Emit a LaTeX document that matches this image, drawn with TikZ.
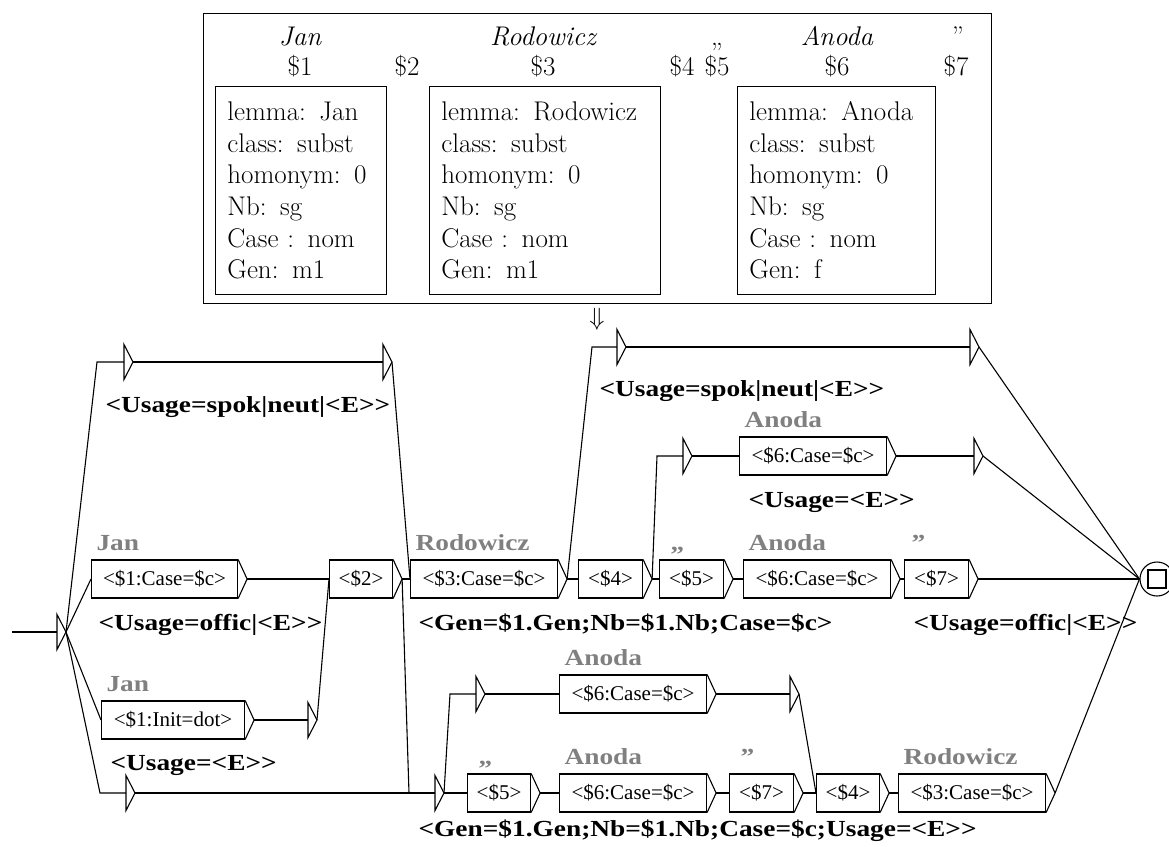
\documentclass[tikz,border=0pt]{standalone}
\usepackage{fontspec}
\newfontfamily\boxfont{Liberation Serif}
\newfontfamily\outfont[FakeStretch=1.19]{Liberation Serif}
\begin{document}
\begin{tikzpicture}[x=1pt,y=-1pt,line width=1.1pt,
 tbox/.style={draw,anchor=west,minimum height=38pt,minimum width=#1,inner sep=0pt,font=\boxfont\fontsize{21}{25}\selectfont},
 tbox/.default=64pt,
 glab/.style={anchor=base west,text=gray,inner sep=0pt,font=\outfont\bfseries\fontsize{23}{27}\selectfont},
 outp/.style={anchor=base west,inner sep=0pt,font=\outfont\bfseries\fontsize{23}{27}\selectfont},
 lex/.style={draw,anchor=north west,align=left,text width=#1,minimum height=208pt,inner xsep=12pt,inner ysep=0pt,line width=0.8pt,font=\fontsize{27}{31.7}\selectfont},
 tok/.style={anchor=base,inner sep=0pt,font=\fontsize{27}{31.7}\selectfont}]
\useasboundingbox (0,0) rectangle (1169,846);
\draw[line width=0.8pt] (203,13) rectangle (991,303);
\node[lex=147pt] (lj) at (215,86) {lemma: Jan\\class: subst\\homonym: 0\\Nb: sg\\Case : nom\\Gen: m1};
\node[lex=207pt] (lr) at (429,86) {lemma: Rodowicz\\class: subst\\homonym: 0\\Nb: sg\\Case : nom\\Gen: m1};
\node[lex=174pt] (la) at (737,86) {lemma: Anoda\\class: subst\\homonym: 0\\Nb: sg\\Case : nom\\Gen: f};
\node[tok] (tj) at (300,45) {\itshape Jan};
\node[tok] (t1) at (300,75) {\$1};
\node[tok] (t2) at (407,75) {\$2};
\node[tok] (tr) at (543,45) {\itshape Rodowicz};
\node[tok] (t3) at (543,75) {\$3};
\node[tok] (t4) at (682,75) {\$4};
\node[tok] (tq1) at (717,45) {„};
\node[tok] (t5) at (717,75) {\$5};
\node[tok] (ta) at (837,45) {\itshape Anoda};
\node[tok] (t6) at (837,75) {\$6};
\node[tok] (tq2) at (958,45) {”};
\node[tok] (t7) at (956,75) {\$7};
\node[tok,anchor=center] (dn) at (597,319) {$\Downarrow$};
\coordinate (start) at (12,632);
\foreach \e/\x/\y in {s0/57/632,eA/124/362,eB/383/362,eC/308/720,eD/126/793,eE/435/793,eF/476/694,eG/790/694,eH/617/347,eI/970/347,eJ/683/456,eK/974/456}{
 \coordinate (\e) at (\x,\y);
 \draw (\e) ++(0,-17.5) -- ++(0,35) -- ++(9,-17.5) coordinate (\e-out) -- cycle;}
\node[tbox=146pt] (j1) at (91,579) {<\$1:Case=\$c>};
\node[tbox=63pt] (d2) at (329,579) {<\$2>};
\node[tbox=147pt] (r1) at (410,579) {<\$3:Case=\$c>};
\node[tbox] (d4) at (578,579) {<\$4>};
\node[tbox] (d5) at (659,579) {<\$5>};
\node[tbox=147pt] (a1) at (743,579) {<\$6:Case=\$c>};
\node[tbox] (d7) at (904,579) {<\$7>};
\node[tbox=147pt] (a2) at (739,456) {<\$6:Case=\$c>};
\node[tbox=143pt] (j2) at (101,720) {<\$1:Init=dot>};
\node[tbox=147pt] (a4) at (559,694) {<\$6:Case=\$c>};
\node[tbox=63pt] (e5) at (467,793) {<\$5>};
\node[tbox=147pt] (a3) at (559,793) {<\$6:Case=\$c>};
\node[tbox] (e7) at (729,793) {<\$7>};
\node[tbox=63pt] (e4) at (816,793) {<\$4>};
\node[tbox=147pt] (r2) at (898,793) {<\$3:Case=\$c>};
\foreach \b in {j1,d2,r1,d4,d5,a1,d7,a2,j2,a4,e5,a3,e7,e4,r2}
 \draw (\b.north east) -- ([xshift=9pt]\b.east) coordinate (\b-out) -- (\b.south east);
\node[draw,circle,minimum size=34pt,inner sep=0pt] (fin) at (1157,579) {};
\node[draw,minimum size=18pt,inner sep=0pt] (fsq) at (fin) {};
\foreach \b/\t/\s in {j1/Jan/5,r1/Rodowicz/5,a1/Anoda/5,a2/Anoda/5,j2/Jan/5,a4/Anoda/5,a3/Anoda/5,r2/Rodowicz/5,d5/„/11,d7/”/7,e5/„/11,e7/”/11}
 \node[glab] (\b-lab) at ([xshift=\s pt,yshift=9pt]\b.north west) {\t};
\node[outp] (u1) at (105,412) {<Usage=spok|neut|<E>>};
\node[outp] (u2) at (98,630) {<Usage=offic|<E>>};
\node[outp] (u3) at (110,770) {<Usage=<E>>};
\node[outp] (u4) at (418,630) {<Gen=\$1.Gen;Nb=\$1.Nb;Case=\$c>};
\node[outp] (u5) at (599,396) {<Usage=spok|neut|<E>>};
\node[outp] (u6) at (748,507) {<Usage=<E>>};
\node[outp] (u7) at (913,630) {<Usage=offic|<E>>};
\node[outp] (u8) at (418,836) {<Gen=\$1.Gen;Nb=\$1.Nb;Case=\$c;Usage=<E>>};
\draw (start) -- (s0);
\draw (s0-out) -- ([xshift=-27pt]eA) -- (eA);
\draw (s0-out) -- ([xshift=-26pt]eD) -- (eD);
\draw (d2-out) -- ([xshift=-26pt]eE) -- (eE);
\draw (r1-out) -- ([xshift=-25pt]eH) -- (eH);
\draw (d4-out) -- ([xshift=-26pt]eJ) -- (eJ);
\draw (eE-out) -- ([xshift=-26pt]eF) -- (eF);
\foreach \a/\b in {eA-out/eB,eB-out/r1.west,s0-out/j1.west,j1-out/d2.west,d2-out/r1.west,s0-out/j2.west,j2-out/eC,eC-out/d2.west,eD-out/eE,eH-out/eI,eI-out/fin.west,r1-out/d4.west,eJ-out/a2.west,a2-out/eK,eK-out/fin.west,d4-out/d5.west,d5-out/a1.west,a1-out/d7.west,d7-out/fin.west,eE-out/e5.west,eF-out/a4.west,a4-out/eG,eG-out/e4.west,e5-out/a3.west,a3-out/e7.west,e7-out/e4.west,e4-out/r2.west,r2-out/fin.west}
 \draw (\a) -- (\b);
\end{tikzpicture}
\end{document}
